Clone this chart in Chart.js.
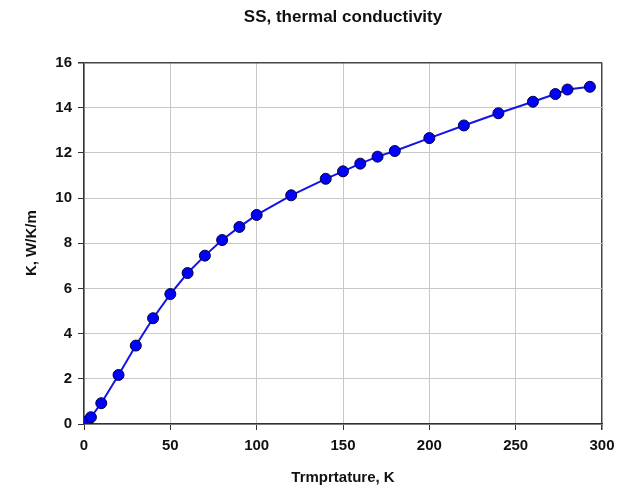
<!DOCTYPE html>
<html>
<head>
<meta charset="utf-8">
<script src="https://cdn.jsdelivr.net/npm/chart.js@4/dist/chart.umd.min.js"></script>
<style>
  html, body { margin: 0; padding: 0; background: #fff; }
  #wrap { width: 624px; height: 491px; }
</style>
</head>
<body>
<div id="wrap"><canvas id="ssChart" width="624" height="491"></canvas></div>
<script>
// temperature (K) and thermal conductivity (W/K/m)
const temps = [2, 4, 10, 20, 30, 40, 50, 60, 70, 80, 90, 100, 120, 140, 150, 160, 170, 180, 200, 220, 240, 260, 273, 280, 293];
const conductivity = [0.12, 0.3, 0.92, 2.17, 3.47, 4.68, 5.75, 6.68, 7.45, 8.14, 8.72, 9.25, 10.12, 10.85, 11.18, 11.52, 11.83, 12.08, 12.65, 13.21, 13.75, 14.26, 14.6, 14.8, 14.92];
const xTicks = [0, 50, 100, 150, 200, 250, 300];
const yTicks = [0, 2, 4, 6, 8, 10, 12, 14, 16];

document.addEventListener('DOMContentLoaded', function() {
    const ctx = document.getElementById('ssChart').getContext('2d');
    const points = temps.map((t, i) => ({ x: t, y: conductivity[i] }));
    const fontFamily = '"Liberation Sans", Arial, sans-serif';

    new Chart(ctx, {
        type: 'scatter',
        data: {
            datasets: [{
                label: 'SS',
                data: points,
                showLine: true,
                borderColor: '#1414e6',
                borderWidth: 2,
                backgroundColor: '#0000ff',
                pointBackgroundColor: '#0000ff',
                pointBorderColor: '#000040',
                pointBorderWidth: 1,
                pointRadius: 5.5,
                tension: 0
            }]
        },
        options: {
            responsive: false,
            animation: false,
            layout: { padding: { left: 10, right: 22, top: 0, bottom: 4 } },
            plugins: {
                legend: { display: false },
                tooltip: { enabled: false },
                title: {
                    display: true,
                    text: 'SS, thermal conductivity',
                    fullSize: false,
                    color: '#111',
                    font: { family: fontFamily, size: 17, weight: 'bold' },
                    padding: { top: 7, bottom: 35 }
                }
            },
            scales: {
                x: {
                    type: 'linear',
                    min: xTicks[0],
                    max: xTicks[xTicks.length - 1],
                    afterBuildTicks: s => { s.ticks = xTicks.map(v => ({ value: v })); },
                    afterFit: s => { s.height = 63; },
                    border: { display: true, color: '#333', width: 1.5 },
                    grid: {
                        color: c => c.tick && c.tick.value === 300 ? '#444' : '#c8c8c8',
                        lineWidth: c => c.tick && c.tick.value === 300 ? 1.5 : 1,
                        tickColor: '#333',
                        tickLength: 6
                    },
                    ticks: {
                        color: '#111',
                        padding: 7,
                        font: { family: fontFamily, size: 15, weight: 'bold' }
                    },
                    title: {
                        display: true,
                        text: 'Trmprtature, K',
                        color: '#111',
                        font: { family: fontFamily, size: 15, weight: 'bold' },
                        padding: { top: 0, bottom: 0 }
                    }
                },
                y: {
                    type: 'linear',
                    min: yTicks[0],
                    max: yTicks[yTicks.length - 1],
                    afterBuildTicks: s => { s.ticks = yTicks.map(v => ({ value: v })); },
                    afterFit: s => { s.width = 74; },
                    border: { display: true, color: '#333', width: 1.5 },
                    grid: {
                        color: c => c.tick && c.tick.value === 16 ? '#444' : '#c8c8c8',
                        lineWidth: c => c.tick && c.tick.value === 16 ? 1.5 : 1,
                        tickColor: '#333',
                        tickLength: 6
                    },
                    ticks: {
                        color: '#111',
                        padding: 6,
                        font: { family: fontFamily, size: 15, weight: 'bold' }
                    },
                    title: {
                        display: true,
                        text: 'K, W/K/m',
                        color: '#111',
                        font: { family: fontFamily, size: 15, weight: 'bold' },
                        padding: { top: 13, bottom: 0 }
                    }
                }
            }
        }
    });
});
</script>
</body>
</html>
